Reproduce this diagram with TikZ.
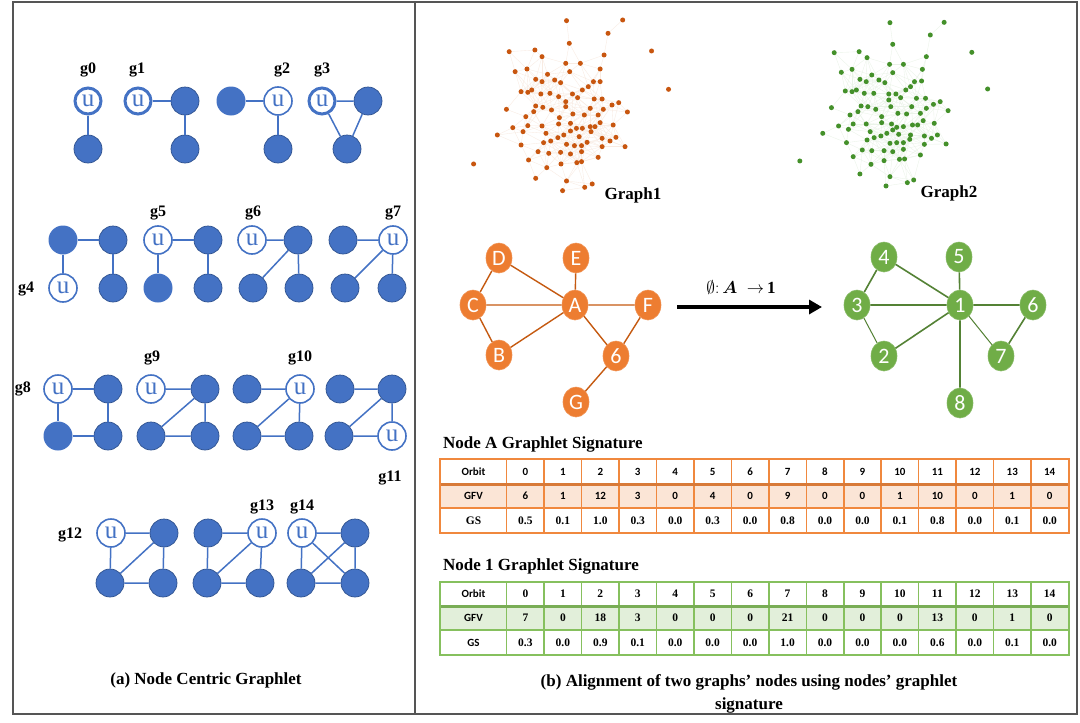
\documentclass[tikz,border=0pt]{standalone}
\usepackage{amsmath}
\usepackage{fontspec}
\setmainfont{Liberation Serif}
\newfontfamily\calib{Carlito}
\usetikzlibrary{arrows.meta,shapes.geometric}
\definecolor{gblue}{HTML}{4472C4}
\definecolor{gbluedk}{HTML}{2F528F}
\definecolor{ornode}{HTML}{ED7D31}
\definecolor{oredge}{HTML}{C55A11}
\definecolor{grnode}{HTML}{70AD47}
\definecolor{gredge}{HTML}{548235}
\definecolor{orfill}{HTML}{FBE5D6}
\definecolor{grfill}{HTML}{E2EFDA}
\definecolor{orline}{HTML}{F0883E}
\definecolor{grline}{HTML}{86C05E}
\definecolor{framec}{HTML}{555555}
\definecolor{dotA}{HTML}{C8560F}
\definecolor{dotB}{HTML}{44902A}
\begin{document}
\begin{tikzpicture}[x=1pt,y=-1pt,
  fnode/.style={circle,fill=gblue,draw=gbluedk,line width=0.7pt,minimum size=28pt,inner sep=0pt},
  fnodeL/.style={circle,fill=gblue,draw=none,minimum size=29pt,inner sep=0pt},
  unode/.style={circle,fill=white,draw=gblue,line width=1.6pt,minimum size=28pt,inner sep=0pt,text=gblue,font=\fontsize{25}{25}\selectfont},
  unodeT/.style={unode,line width=3pt,minimum size=26pt},
  gedge/.style={gblue,line width=1.5pt},
  glabel/.style={font=\bfseries\fontsize{16}{16}\selectfont,inner sep=0pt},
  onode/.style={ellipse,fill=ornode,draw=ornode!85!white,line width=0.6pt,minimum width=26pt,minimum height=30pt,inner sep=0pt,text=white,font=\calib\fontsize{22}{22}\selectfont},
  grn/.style={onode,fill=grnode,draw=grnode!85!white},
  oedge/.style={oredge,line width=1.4pt},
  gredg/.style={gredge,line width=1.6pt},
  gredgT/.style={gredge,line width=1pt},
  captext/.style={font=\bfseries\fontsize{17}{23}\selectfont,inner sep=0pt},
  tsans/.style={font=\calib\bfseries\fontsize{11}{11}\selectfont,inner sep=0pt},
  tser/.style={font=\bfseries\fontsize{11.5}{11.5}\selectfont,inner sep=0pt},
  eA/.style={draw=dotA!12,line width=0.35pt},
  eB/.style={draw=dotB!11,line width=0.35pt},
]
\useasboundingbox (0,0) rectangle (1080,723);
\fill[white] (0,0) rectangle (1080,723);

% ---------------- scatter graphs ----------------
\begin{scope}[shift={(440pt,0pt)},x=0.3954pt,y=-0.3333pt]
\foreach \px/\py [count=\i] in {320/62,462/60,425/100,327/130,535/153,175/155,240/150,258/170,415/165,318/190,355/190,405/207,190/215,220/207,272/223,328/215,242/238,258/245,290/240,305/248,388/245,405/245,375/260,360/270,205/275,222/277,232/270,255/282,278/280,300/290,335/282,348/293,578/268,318/305,390/297,410/297,168/328,242/318,260/322,282/330,318/320,302/353,336/342,365/345,380/325,400/345,413/328,435/315,452/308,474/336,217/350,237/335,222/377,258/378,300/372,330/370,345/385,360/385,380/380,392/380,405/368,438/375,184/383,145/405,210/395,268/400,298/413,313/405,330/393,352/410,382/395,410/415,430/423,445/412,468/440,205/435,262/428,280/423,320/433,340/437,358/437,372/427,410/440,248/455,275/460,305/457,330/462,358/455,400/472,224/480,270/503,306/492,346/488,358/485,85/492,242/535,320/543,310/572,366/562,385/552}
  {\coordinate (a\i) at (\px,\py); \xdef\nA{\i}}
\foreach \px/\py [count=\i] in {1138/68,1275/67,1240/105,1145/133,1345/157,997/158,1060/155,1080/173,1230/170,1137/193,1172/193,1220/208,1015/217,1042/208,1092/225,1145/218,1062/238,1078/245,1110/240,1125/248,1200/245,1218/243,1190/260,1178/270,1025/273,1042/275,1053/270,1073/280,1097/280,1135/282,1153/282,1165/293,1385/267,1135/300,1205/295,1228/295,990/323,1065/318,1082/320,1102/328,1140/320,1117/350,1158/340,1180/342,1193/320,1215/340,1230/325,1248/313,1265/305,1285/332,1037/345,1057/335,1045/372,1078/372,1117/368,1142/372,1155/382,1172/380,1195/375,1208/375,1222/362,1250/370,1008/378,968/400,1033/388,1088/395,1115/408,1130/400,1145/390,1160/403,1190/405,1225/408,1243/415,1258/405,1280/432,1028/428,1080/420,1098/413,1138/430,1155/428,1172/428,1188/418,1225/433,1068/450,1092/452,1123/452,1145/455,1172/448,1215/465,1045/470,1090/493,1123/482,1162/478,1175/477,910/483,1062/522,1138/530,1128/558,1182/548,1198/540}
  {\coordinate (b\i) at (\px,\py); \xdef\nB{\i}}
\end{scope}
\foreach \i in {1,...,\nA}{
  \foreach \d in {1,...,14}{
    \pgfmathtruncatemacro\j{\i+\d}
    \ifnum\j>\nA\relax\else
      \pgfpointdiff{\pgfpointanchor{a\i}{center}}{\pgfpointanchor{a\j}{center}}
      \pgfgetlastxy{\dx}{\dy}
      \pgfmathsetmacro\dd{veclen(\dx,\dy)}
      \ifdim\dd pt<26pt \draw[eA] (a\i)--(a\j);\fi
    \fi
  }
}
\foreach \i in {1,...,\nB}{
  \foreach \d in {1,...,14}{
    \pgfmathtruncatemacro\j{\i+\d}
    \ifnum\j>\nB\relax\else
      \pgfpointdiff{\pgfpointanchor{b\i}{center}}{\pgfpointanchor{b\j}{center}}
      \pgfgetlastxy{\dx}{\dy}
      \pgfmathsetmacro\dd{veclen(\dx,\dy)}
      \ifdim\dd pt<26pt \draw[eB] (b\i)--(b\j);\fi
    \fi
  }
}
\foreach \i in {1,...,\nA}{\fill[dotA] (a\i) circle (2.5pt);}
\foreach \i in {1,...,\nB}{\fill[dotB] (b\i) circle (2.5pt);}
\node[captext] (lg1) at (633,195) {Graph1};
\node[captext] (lg2) at (949,193) {Graph2};

% ---------------- frame ----------------
\draw[framec,line width=2pt] (13,2) rectangle (1077,714);
\coordinate (divT) at (415,2);
\coordinate (divB) at (415,714);
\draw[framec,line width=2pt] (divT)--(divB);

% ---------------- graphlets ----------------
% g0
\node[unodeT] (g0u) at (88,101) {u};
\node[fnode] (g0b) at (88,149) {};
\draw[gedge] (g0u)--(g0b);
\node[glabel] (g0l) at (88,70) {g0};
% g1
\node[unodeT] (g1u) at (138,101) {u};
\node[fnode] (g1a) at (185,101) {};
\node[fnode] (g1b) at (185,149) {};
\draw[gedge] (g1u)--(g1a) (g1a)--(g1b);
\node[glabel] (g1l) at (137,70) {g1};
% g2
\node[fnodeL] (g2a) at (231,101) {};
\node[unode] (g2u) at (278,101) {u};
\node[fnode] (g2b) at (278,149) {};
\draw[gedge] (g2a)--(g2u) (g2u)--(g2b);
\node[glabel] (g2l) at (282,70) {g2};
% g3
\node[unodeT] (g3u) at (322,101) {u};
\node[fnode] (g3a) at (368,101) {};
\node[fnode] (g3b) at (347,149) {};
\draw[gedge] (g3u)--(g3a) (g3u)--(g3b) (g3a)--(g3b);
\node[glabel] (g3l) at (322,70) {g3};
% g4
\node[fnodeL] (g4a) at (63,240) {};
\node[fnode] (g4b) at (113,240) {};
\node[unode] (g4u) at (63,288) {u};
\node[fnode] (g4c) at (113,288) {};
\draw[gedge] (g4a)--(g4b) (g4a)--(g4u) (g4b)--(g4c);
\node[glabel] (g4l) at (26,289) {g4};
% g5
\node[unode] (g5u) at (158,240) {u};
\node[fnode] (g5a) at (208,240) {};
\node[fnodeL] (g5b) at (158,288) {};
\node[fnode] (g5c) at (208,288) {};
\draw[gedge] (g5u)--(g5a) (g5u)--(g5b) (g5a)--(g5c);
\node[glabel] (g5l) at (158,213) {g5};
% g6
\node[unode] (g6u) at (252,240) {u};
\node[fnode] (g6a) at (298,240) {};
\node[fnode] (g6b) at (253,288) {};
\node[fnode] (g6c) at (299,288) {};
\draw[gedge] (g6u)--(g6a) (g6a)--(g6b) (g6a)--(g6c);
\node[glabel] (g6l) at (253,213) {g6};
% g7
\node[fnode] (g7a) at (343,240) {};
\node[unode] (g7u) at (393,240) {u};
\node[fnode] (g7b) at (345,288) {};
\node[fnode] (g7c) at (392,288) {};
\draw[gedge] (g7a)--(g7u) (g7u)--(g7b) (g7u)--(g7c);
\node[glabel] (g7l) at (393,213) {g7};
% g8
\node[unode] (g8u) at (58,389) {u};
\node[fnode] (g8a) at (108,389) {};
\node[fnodeL] (g8b) at (58,436) {};
\node[fnode] (g8c) at (108,436) {};
\draw[gedge] (g8u)--(g8a) (g8u)--(g8b) (g8a)--(g8c) (g8b)--(g8c);
\node[glabel] (g8l) at (23,389) {g8};
% g9
\node[unode] (g9u) at (151,389) {u};
\node[fnode] (g9a) at (205,389) {};
\node[fnode] (g9b) at (151,436) {};
\node[fnode] (g9c) at (205,436) {};
\draw[gedge] (g9u)--(g9a) (g9a)--(g9b) (g9a)--(g9c) (g9b)--(g9c);
\node[glabel] (g9l) at (152,358) {g9};
% g10
\node[fnode] (g10a) at (247,389) {};
\node[unode] (g10u) at (300,389) {u};
\node[fnode] (g10b) at (247,436) {};
\node[fnode] (g10c) at (299,436) {};
\draw[gedge] (g10a)--(g10u) (g10u)--(g10b) (g10u)--(g10c) (g10b)--(g10c);
\node[glabel] (g10l) at (300,358) {g10};
% g11
\node[fnode] (g11a) at (340,389) {};
\node[fnode] (g11b) at (392,389) {};
\node[fnode] (g11c) at (339,436) {};
\node[unode] (g11u) at (392,436) {u};
\draw[gedge] (g11a)--(g11b) (g11b)--(g11c) (g11b)--(g11u) (g11c)--(g11u);
\node[glabel] (g11l) at (390,478) {g11};
% g12
\node[unode] (g12u) at (111,533) {u};
\node[fnode] (g12a) at (164,533) {};
\node[fnode] (g12b) at (110,583) {};
\node[fnode] (g12c) at (163,583) {};
\draw[gedge] (g12u)--(g12a) (g12u)--(g12b) (g12a)--(g12b) (g12a)--(g12c) (g12b)--(g12c);
\node[glabel] (g12l) at (70,535) {g12};
% g13
\node[fnode] (g13a) at (208,533) {};
\node[unode] (g13u) at (262,533) {u};
\node[fnode] (g13b) at (207,583) {};
\node[fnode] (g13c) at (260,583) {};
\draw[gedge] (g13a)--(g13u) (g13a)--(g13b) (g13u)--(g13b) (g13u)--(g13c) (g13b)--(g13c);
\node[glabel] (g13l) at (262,507) {g13};
% g14
\node[unode] (g14u) at (302,533) {u};
\node[fnode] (g14a) at (355,533) {};
\node[fnode] (g14b) at (301,583) {};
\node[fnode] (g14c) at (355,583) {};
\draw[gedge] (g14u)--(g14a) (g14u)--(g14b) (g14u)--(g14c) (g14a)--(g14b) (g14a)--(g14c) (g14b)--(g14c);
\node[glabel] (g14l) at (302,507) {g14};

\node[captext] (capa) at (206,680) {(a) Node Centric Graphlet};

% ---------------- orange graph ----------------
\node[onode] (oD) at (499,258) {D};
\node[onode] (oE) at (576,258) {E};
\node[onode] (oC) at (473,305) {C};
\node[onode] (oA) at (575,305) {A};
\node[onode] (oF) at (648,305) {F};
\node[onode] (oB) at (499,355) {B};
\node[onode] (o6) at (616,356) {6};
\node[onode] (oG) at (576,402) {G};
\draw[oedge] (oD)--(oC) (oD)--(oA) (oE)--(oA) (oC)--(oA) (oC)--(oB) (oB)--(oA) (oA)--(oF) (oA)--(o6) (oF)--(o6) (o6)--(oG);

% ---------------- green graph ----------------
\node[grn] (n4) at (884,257) {4};
\node[grn] (n5) at (959,257) {5};
\node[grn] (n3) at (857,305) {3};
\node[grn] (n1) at (960,305) {1};
\node[grn] (n6) at (1033,305) {6};
\node[grn] (n2) at (884,356) {2};
\node[grn] (n7) at (1001,356) {7};
\node[grn] (n8) at (960,403) {8};
\draw[gredg] (n4)--(n3) (n4)--(n1) (n5)--(n1) (n3)--(n1) (n2)--(n1) (n1)--(n6) (n6)--(n7) (n1)--(n8);
\draw[gredgT] (n3)--(n2) (n1)--(n7);

% ---------------- arrow ----------------
\coordinate (arS) at (677,307);
\coordinate (arE) at (822,307);
\draw[line width=4pt,-{Triangle[length=13pt,width=14pt]}] (arS)--(arE);
\node[inner sep=0pt,font=\fontsize{17}{17}\selectfont] (phi) at (741,287) {$\emptyset{:}\,\boldsymbol{A}\;\;{\to}\,\mathbf{1}$};

% ---------------- table 1 ----------------
\def\tx{440.4}\def\tc{506.7}\def\tw{37.45}\def\tr{1068.5}
\node[captext,anchor=west] (tAt) at (443,444) {Node A Graphlet Signature};
\fill[orfill] (\tx,484) rectangle (\tr,508);
\foreach \k in {0,...,14} \draw[orline,line width=1.5pt] ({\tc+\k*\tw},459) -- ({\tc+\k*\tw},533);
\draw[orline,line width=1.5pt] (\tx,508) -- (\tr,508);
\draw[orline!90!black,line width=3pt] (\tx,484) -- (\tr,484);
\draw[orline,line width=2pt] (\tx,459) rectangle (\tr,533);
\node[tsans] (tAh0) at (473.5,471.5) {Orbit};
\node[tsans] (tAh1) at (473.5,496) {GFV};
\node[tser] (tAh2) at (473.5,520.5) {GS};
\foreach \k in {0,...,14} \node[tsans] (tAo\k) at ({\tc+(\k+0.5)*\tw},471.5) {\k};
\foreach \v [count=\k from 0] in {6,1,12,3,0,4,0,9,0,0,1,10,0,1,0} \node[tsans] (tAf\k) at ({\tc+(\k+0.5)*\tw},496) {\v};
\foreach \v [count=\k from 0] in {0.5,0.1,1.0,0.3,0.0,0.3,0.0,0.8,0.0,0.0,0.1,0.8,0.0,0.1,0.0} \node[tser] (tAs\k) at ({\tc+(\k+0.5)*\tw},520.5) {\v};

% ---------------- table 2 ----------------
\node[captext,anchor=west] (tBt) at (443,566) {Node 1 Graphlet Signature};
\fill[grfill] (\tx,606) rectangle (\tr,630);
\foreach \k in {0,...,14} \draw[grline,line width=1.5pt] ({\tc+\k*\tw},582) -- ({\tc+\k*\tw},655);
\draw[grline,line width=1.5pt] (\tx,630) -- (\tr,630);
\draw[grline!90!black,line width=3pt] (\tx,606) -- (\tr,606);
\draw[grline,line width=2pt] (\tx,582) rectangle (\tr,655);
\node[tsans] (tBh0) at (473.5,594) {Orbit};
\node[tsans] (tBh1) at (473.5,618) {GFV};
\node[tsans] (tBh2) at (473.5,642.5) {GS};
\foreach \k in {0,...,14} \node[tser] (tBo\k) at ({\tc+(\k+0.5)*\tw},594) {\k};
\foreach \v [count=\k from 0] in {7,0,18,3,0,0,0,21,0,0,0,13,0,1,0} \node[tser] (tBf\k) at ({\tc+(\k+0.5)*\tw},618) {\v};
\foreach \v [count=\k from 0] in {0.3,0.0,0.9,0.1,0.0,0.0,0.0,1.0,0.0,0.0,0.0,0.6,0.0,0.1,0.0} \node[tser] (tBs\k) at ({\tc+(\k+0.5)*\tw},642.5) {\v};

\node[captext,align=center] (capb) at (749,694) {(b) Alignment of two graphs’ nodes using nodes’ graphlet\\signature};
\end{tikzpicture}
\end{document}
